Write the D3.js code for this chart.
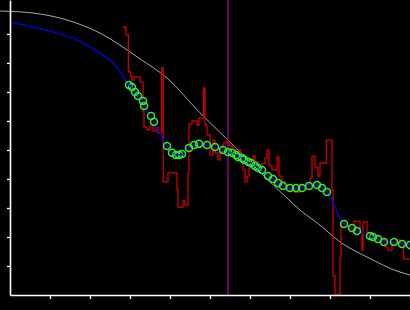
<!DOCTYPE html>
<html><head><meta charset="utf-8">
<script src="https://cdn.jsdelivr.net/npm/d3@7"></script>
<style>html,body{margin:0;padding:0;background:#000;overflow:hidden}</style>
</head><body>
<script>
// ---- data (x in axis units, y in axis units) ----
const xTicks = [1,2,3,4,5,6,7,8,9,10];
const yTicks = [1,2,3,4,5,6,7,8,9];
const markerX = 5.45;

const modelX = [-0.25,0.575,1.425,2.25,3.25,3.925,4.75,5.45,6.25,6.925,7.25,7.75,8.25,8.925,9.75,10.0];
const modelY = [9.79,9.72,9.48,9.03,8.14,7.48,6.28,5.34,4.24,3.34,2.93,2.41,1.83,1.31,0.79,0.69];

const leadX = [0,0.575,1.0,1.425,1.825,2.25,2.575,2.8];
const leadY = [9.41,9.24,9.10,8.93,8.69,8.34,8.00,7.62];

const ptX = [2.975,3.05,3.125,3.2,3.325,3.35,3.525,3.6,3.925,4.05,4.15,4.225,4.3,4.475,4.6,4.725,4.925,5.125,5.325,5.45,5.55,5.65,5.7,5.8,5.85,5.95,6.025,6.125,6.2,6.3,6.45,6.575,6.7,6.825,7.0,7.15,7.3,7.475,7.675,7.8,7.925,8.35,8.55,8.675,9.0,9.075,9.2,9.35,9.6,9.8,10.0];
const ptY = [7.24,7.17,7.00,6.86,6.69,6.52,6.17,5.97,5.14,4.90,4.83,4.83,4.86,5.07,5.17,5.21,5.17,5.10,5.00,4.93,4.90,4.83,4.76,4.72,4.66,4.59,4.55,4.45,4.38,4.31,4.10,4.00,3.86,3.76,3.69,3.69,3.69,3.76,3.79,3.69,3.55,2.45,2.31,2.21,2.03,2.00,1.93,1.83,1.83,1.76,1.72];

const rawX = [2.825,2.90,2.96,3.01,3.05,3.10,3.25,3.325,3.35,3.425,3.50,3.575,3.65,3.70,3.79,3.83,3.95,4.175,4.20,4.325,4.375,4.45,4.475,4.55,4.675,4.725,4.84,4.875,4.925,5.00,5.075,5.125,5.20,5.25,5.325,5.40,5.475,5.55,5.65,5.725,5.775,5.825,5.875,5.925,5.975,6.025,6.075,6.125,6.20,6.30,6.375,6.425,6.475,6.55,6.675,6.725,6.80,6.875,7.00,7.125,7.25,7.425,7.50,7.55,7.625,7.70,7.75,7.91,8.05,8.075,8.125,8.25,8.275,8.375,8.50,8.60,8.75,8.80,8.825,8.925,9.05,9.20,9.375,9.45,9.55,9.65,9.75,9.84,10.0];
const rawY = [9.24,8.97,7.69,7.52,7.41,7.52,7.34,6.31,5.79,5.69,5.83,5.66,5.79,5.59,7.83,3.90,4.21,3.62,3.03,3.24,3.10,4.21,5.90,6.00,5.86,6.10,7.14,5.86,5.52,4.83,5.34,4.90,4.66,4.93,5.21,5.28,5.14,5.10,4.93,5.00,4.66,4.31,3.90,4.10,4.38,4.66,4.79,4.59,4.38,4.52,4.72,5.00,4.45,4.31,4.76,4.10,3.90,3.69,3.62,3.55,3.76,3.79,4.03,4.79,4.41,4.10,4.55,5.34,3.62,0.66,0,1.28,2.48,2.38,2.28,2.55,2.14,1.55,2.52,2.14,2.03,1.90,1.66,1.55,1.76,1.90,1.79,1.24,1.24];

// ---- layout ----
const W = 410, H = 310;
const x = d3.scaleLinear().domain([0,10]).range([10,410]);
const y = d3.scaleLinear().domain([0,10.17]).range([295,0]);

const svg = d3.select("body").append("svg").attr("width",W).attr("height",H)
  .style("background","#000").style("display","block");

// model curve (gray)
svg.append("path")
  .datum(modelX.map((v,i)=>[v,modelY[i]]))
  .attr("fill","none").attr("stroke","#a8a8a8").attr("stroke-width",1)
  .attr("d", d3.line().x(d=>x(d[0])).y(d=>y(d[1])).curve(d3.curveMonotoneX));

// raw step line (red)
svg.append("path")
  .datum(rawX.map((v,i)=>[v,rawY[i]]))
  .attr("fill","none").attr("stroke","#cc0000").attr("stroke-width",1.3)
  .attr("d", d3.line().x(d=>x(d[0])).y(d=>y(d[1])).curve(d3.curveStepAfter));

// smooth fit (blue)
const blue = leadX.map((v,i)=>[v,leadY[i]]).concat(ptX.map((v,i)=>[v,ptY[i]]));
svg.append("path")
  .datum(blue)
  .attr("fill","none").attr("stroke","#0000ff").attr("stroke-width",1.2)
  .attr("d", d3.line().x(d=>x(d[0])).y(d=>y(d[1])).curve(d3.curveMonotoneX));

// vertical marker (purple)
svg.append("line")
  .attr("x1",x(markerX)).attr("x2",x(markerX))
  .attr("y1",0).attr("y2",y(0))
  .attr("stroke","#8a008a").attr("stroke-width",1.5);

// points (green rings)
const pts = ptX.map((v,i)=>[v,ptY[i]]);
svg.append("g").selectAll("circle").data(pts).join("circle")
  .attr("cx",d=>x(d[0])).attr("cy",d=>y(d[1])).attr("r",3.5)
  .attr("fill","none").attr("stroke","#2cf02c").attr("stroke-width",1.5);
svg.append("g").selectAll("circle").data(pts).join("circle")
  .attr("cx",d=>x(d[0])).attr("cy",d=>y(d[1])).attr("r",0.9)
  .attr("fill","#0000ff");

// axes
const gx = svg.append("g").attr("transform",`translate(0,${y(0)})`)
  .call(d3.axisBottom(x).tickValues(xTicks).tickSize(4).tickSizeOuter(0).tickFormat(""));
const gy = svg.append("g").attr("transform",`translate(${x(0)},0)`)
  .call(d3.axisLeft(y).tickValues(yTicks).tickSize(3).tickSizeOuter(0).tickFormat(""));
[gx,gy].forEach(g=>{
  g.select(".domain").attr("stroke","#fff").attr("stroke-width",1.6);
  g.selectAll(".tick line").attr("stroke","#fff").attr("stroke-width",1.3);
});
</script>
</body></html>
